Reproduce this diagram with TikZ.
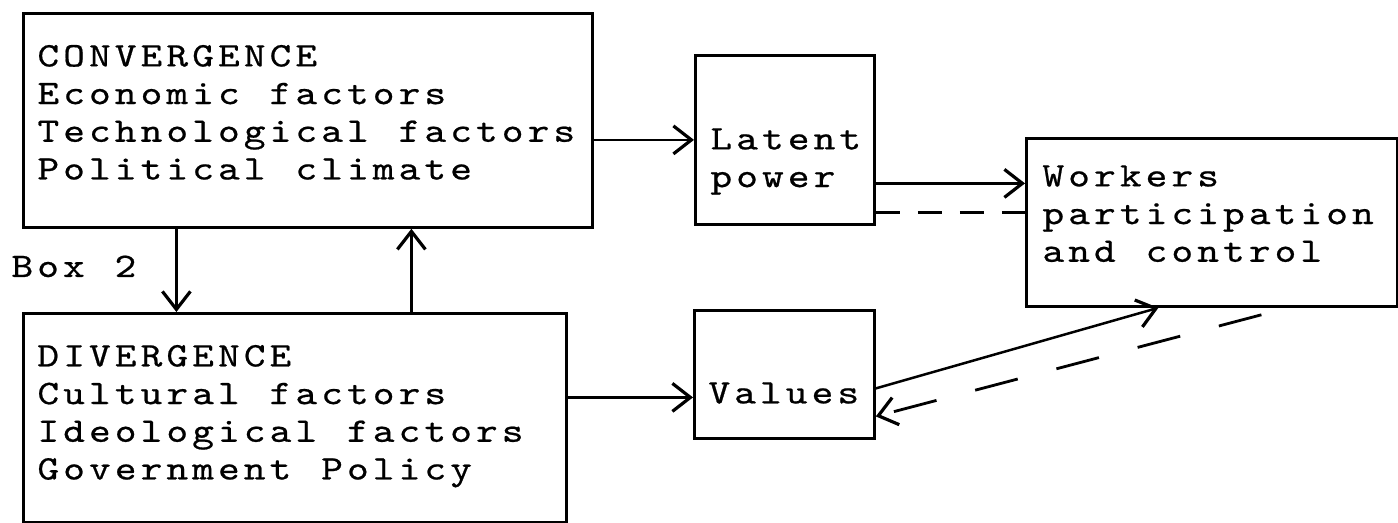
\documentclass[tikz,border=0pt]{standalone}
\usepackage{fontspec}
\newfontfamily\typewriter{lmmono10-regular}[Extension=.otf, FakeBold=0.6, FakeStretch=1.2]
\newcommand\boxfont{\typewriter\fontsize{17.2}{18.85}\selectfont}
\ExplSyntaxOn
\cs_new_protected:Npn \typed #1 { \str_map_inline:nn {#1} { \makebox[12.9pt][c]{##1} } }
\ExplSyntaxOff
\usetikzlibrary{arrows.meta}

\begin{document}
\begin{tikzpicture}[x=0.5pt, y=-0.5pt, font=\boxfont]
	\tikzstyle{BoxStyle}=[draw, line width=1.4pt, anchor=north west, align=left, inner ysep=0pt, inner xsep=6pt]
	\tikzstyle{ArrowStyle}=[line width=1.25pt, -{Straight Barb[length=9pt, width=14pt, line width=1.6pt]}]
	\tikzstyle{DashStyle}=[line width=1.4pt, dash pattern=on 12pt off 9pt]
	\useasboundingbox (0,0) rectangle (1398,523);
	\node[style=BoxStyle, text width=272.5pt, text height=26.5pt, text depth=80.5pt] (conv) at (22,12) {\typed{CONVERGENCE}\\\typed{Economic factors}\\\typed{Technological factors}\\\typed{Political climate}};
	\node[style=BoxStyle, text width=259.5pt, text height=26.5pt, text depth=78pt] (div) at (22,312) {\typed{DIVERGENCE}\\\typed{Cultural factors}\\\typed{Ideological factors}\\\typed{Government Policy}};
	\node[style=BoxStyle, inner xsep=6.5pt, text width=76.5pt, text height=47pt, text depth=37.5pt] (latent) at (694,54) {\typed{Latent}\\\typed{power}};
	\node[style=BoxStyle, text width=78pt, text height=46.5pt, text depth=17.5pt] (values) at (693,309) {\typed{Values}};
	\node[style=BoxStyle, inner xsep=7pt, text width=171.5pt, text height=24pt, text depth=60pt] (workers) at (1025,137) {\typed{Workers}\\\typed{participation}\\\typed{and control}};
	\node[anchor=base west, inner sep=0pt] (boxlabel) at (9,277) {\typed{Box 2}};
	\draw[style=ArrowStyle] (latent.west -| conv.east) -- (latent.west);
	\draw[style=ArrowStyle] ([yshift=-21.75pt]latent.east) -- ([yshift=-21.75pt]latent.east -| workers.west);
	\draw[style=DashStyle] ([yshift=-36.25pt]latent.east) -- ([yshift=-36.25pt]latent.east -| workers.west);
	\draw[style=ArrowStyle] ([xshift=-65.75pt]conv.south) -- ([xshift=-65.75pt]conv.south |- div.north);
	\draw[style=ArrowStyle] ([xshift=51.75pt]conv.south |- div.north) -- ([xshift=51.75pt]conv.south);
	\draw[style=ArrowStyle] ([yshift=-11.5pt]values.west -| div.east) -- ([yshift=-11.5pt]values.west);
	\draw[style=ArrowStyle] ([yshift=-7pt]values.east) -- ([xshift=-26.75pt]workers.south);
	\draw[style=DashStyle, dash pattern=on 22pt off 20pt, -{Straight Barb[length=9pt, width=14pt, line width=1.6pt]}] ([xshift=24.75pt, yshift=-3.5pt]workers.south) -- ([yshift=-21pt]values.east);
\end{tikzpicture}
\end{document}
